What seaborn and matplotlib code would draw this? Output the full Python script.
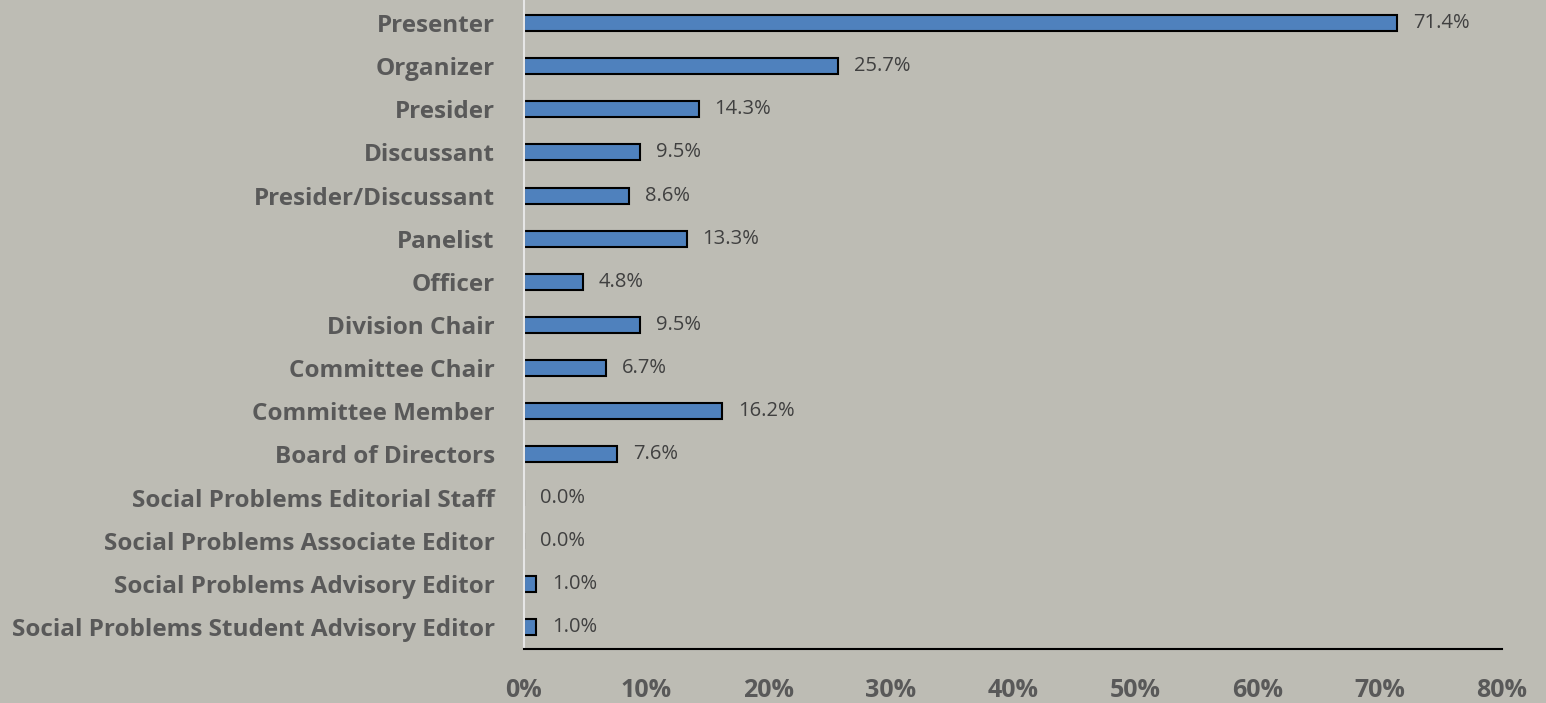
import matplotlib
matplotlib.use("Agg")
import matplotlib.pyplot as plt
import pandas as pd
import seaborn as sns
from matplotlib.ticker import FuncFormatter

roles = [
    "Presenter",
    "Organizer",
    "Presider",
    "Discussant",
    "Presider/Discussant",
    "Panelist",
    "Officer",
    "Division Chair",
    "Committee Chair",
    "Committee Member",
    "Board of Directors",
    "Social Problems Editorial Staff",
    "Social Problems Associate Editor",
    "Social Problems Advisory Editor",
    "Social Problems Student Advisory Editor",
]
shares = [71.4, 25.7, 14.3, 9.5, 8.6, 13.3, 4.8, 9.5, 6.7, 16.2, 7.6, 0.0, 0.0, 1.0, 1.0]
x_ticks = [0, 10, 20, 30, 40, 50, 60, 70, 80]

BG = "#BDBCB4"
BAR = "#4F81BD"
LABEL = "#595959"

sns.set_theme(style="white")
plt.rcParams["font.family"] = ["Open Sans", "DejaVu Sans"]

df = pd.DataFrame({"role": roles, "share": shares})

fig = plt.figure(figsize=(15.46, 7.03), dpi=100, facecolor=BG)
ax = fig.add_axes([0.3389, 0.0774, 0.6326, 0.9206])
ax.set_facecolor(BG)

sns.barplot(data=df, x="share", y="role", color=BAR, width=0.37,
            edgecolor="black", linewidth=1.5, saturation=1, ax=ax)

for bar, val in zip(ax.patches, shares):
    ax.text(bar.get_width() + 1.3, bar.get_y() + bar.get_height() / 2,
            f"{val:.1f}%", va="center", ha="left", fontsize=14.5, color="#404040")

ax.set_xlim(0, 80)
ax.set_ylim(14.5, -0.5)
ax.set_xticks(x_ticks)
ax.xaxis.set_major_formatter(FuncFormatter(lambda v, _: f"{v:.0f}%"))
ax.set_xlabel("")
ax.set_ylabel("")
ax.tick_params(axis="x", length=0, pad=21, labelsize=18, labelcolor=LABEL)
ax.tick_params(axis="y", length=0, pad=21, labelsize=17.5, labelcolor=LABEL)
for lbl in ax.get_xticklabels() + ax.get_yticklabels():
    lbl.set_fontweight("bold")

for side in ["top", "right"]:
    ax.spines[side].set_visible(False)
ax.spines["left"].set_color("#E6E6E6")
ax.spines["left"].set_linewidth(1.5)
ax.spines["bottom"].set_color("black")
ax.spines["bottom"].set_linewidth(1.5)

fig.savefig("out.png", dpi=100, facecolor=BG)
